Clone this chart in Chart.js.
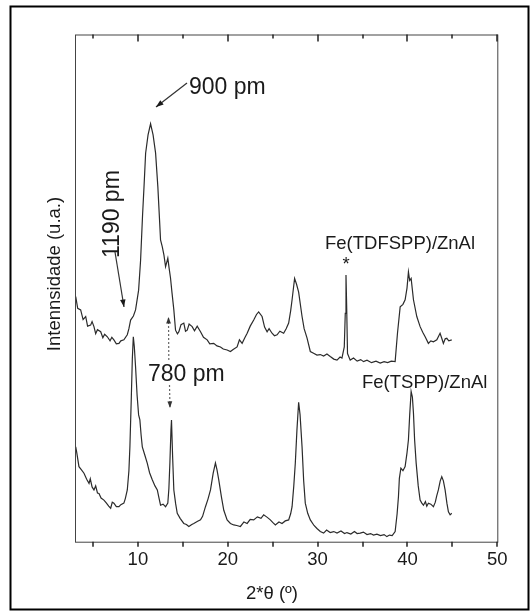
<!DOCTYPE html>
<html>
<head>
<meta charset="utf-8">
<script src="https://cdn.jsdelivr.net/npm/chart.js@4.4.1/dist/chart.umd.min.js"></script>
<style>
  body { margin: 0; background: #fff; }
  canvas { display: block; }
</style>
</head>
<body>
<canvas id="xrd" width="531" height="613"></canvas>
<script>
// 2θ positions (degrees) and intensities (a.u., 0-100)
const angleTDFSPP = [3.08,3.3,3.63,3.9,4.19,4.4,4.74,4.9,5.11,5.3,5.5,5.86,6.1,6.3,6.6,6.9,7.1,7.33,7.6,7.89,
  8.1,8.44,8.82,9.0,9.19,9.5,9.74,10.08,10.3,10.52,10.69,10.86,11.13,11.41,11.69,11.97,12.22,12.41,12.52,12.71,
  12.9,13.08,13.33,13.47,13.63,13.8,14.0,14.19,14.4,14.56,14.8,15.11,15.3,15.49,15.7,16.04,16.3,16.6,16.97,17.3,
  17.71,18.0,18.44,18.8,19.19,19.5,19.93,20.3,20.6,21.04,21.3,21.6,21.9,22.16,22.5,22.89,23.2,23.44,23.82,24.1,
  24.38,24.6,24.93,25.2,25.49,25.8,26.22,26.5,26.78,27.0,27.16,27.44,27.65,27.89,28.27,28.5,28.82,29.19,29.5,29.93,
  30.3,30.67,31.04,31.41,31.8,32.16,32.5,32.71,32.97,33.08,33.16,33.24,33.33,33.63,34.0,34.4,34.8,35.11,35.5,36.0,
  36.5,36.97,37.4,37.8,38.2,38.63,38.89,39.19,39.5,39.74,39.95,40.11,40.25,40.41,40.67,41.04,41.41,41.7,41.97,42.33,
  42.6,42.89,43.27,43.63,43.8,44.0,44.2,44.38,44.6,44.93];
const intensityTDFSPP = [48.3,46.0,45.7,43.8,44.4,42.5,42.7,43.4,42.4,41.0,41.8,41.4,40.2,40.9,40.4,39.6,40.3,39.8,39.0,39.1,
  39.6,39.8,40.8,42.0,43.7,44.5,45.7,49.6,55.5,64.4,70.3,76.6,80.2,82.4,80.2,76.6,70.0,63.4,59.5,58.2,
  56.5,54.2,55.9,54.0,52.0,49.0,45.7,41.7,41.0,41.4,42.8,43.1,41.5,41.7,42.9,42.4,41.6,42.5,41.4,40.3,
  39.8,39.0,39.1,38.6,38.4,38.0,37.8,37.5,37.9,38.4,39.8,39.1,40.2,41.1,42.5,43.7,44.8,45.3,44.4,42.3,
  41.4,42.0,41.1,40.6,40.8,41.5,41.1,42.0,43.1,45.5,47.7,51.9,50.8,49.2,44.4,42.0,40.2,37.5,37.2,36.8,
  36.9,36.6,37.0,36.5,36.0,35.8,36.4,36.2,38.4,45.0,52.6,46.0,37.1,35.8,36.2,35.6,35.9,35.5,35.8,35.3,
  35.6,35.2,35.5,35.3,35.6,35.5,41.1,46.3,46.8,47.7,50.0,53.2,51.5,51.9,47.7,44.4,42.4,41.3,40.4,39.1,
  39.6,39.4,39.8,41.1,40.2,39.1,40.0,40.1,39.6,39.8];

const angleTSPP = [3.08,3.2,3.44,3.7,4.0,4.3,4.56,4.7,4.9,5.11,5.3,5.5,5.67,5.9,6.22,6.5,6.75,6.97,7.15,7.33,
  7.6,7.89,8.1,8.44,8.6,8.82,9.0,9.11,9.27,9.38,9.49,9.6,9.74,9.91,10.08,10.22,10.36,10.49,10.75,11.04,
  11.3,11.6,11.9,12.16,12.35,12.52,12.8,13.08,13.33,13.45,13.56,13.68,13.74,13.86,14.0,14.2,14.38,14.7,15.11,15.4,
  15.67,16.0,16.22,16.6,16.97,17.2,17.52,17.8,18.08,18.38,18.63,18.8,19.0,19.3,19.56,19.93,20.3,20.67,21.0,21.41,
  21.8,22.16,22.5,22.89,23.3,23.7,24.0,24.4,24.74,25.0,25.3,25.7,26.04,26.4,26.78,27.0,27.16,27.35,27.52,27.7,
  27.89,28.05,28.27,28.45,28.63,28.9,29.19,29.6,29.93,30.3,30.67,31.0,31.4,31.8,32.16,32.6,33.0,33.27,33.7,34.1,
  34.4,34.74,35.1,35.5,35.9,36.22,36.6,37.0,37.4,37.71,38.0,38.3,38.63,38.85,39.0,39.1,39.27,39.5,39.74,39.95,
  40.11,40.25,40.41,40.55,40.67,40.8,40.97,41.2,41.41,41.6,41.78,42.0,42.15,42.33,42.6,42.89,43.1,43.25,43.44,43.65,
  43.82,44.0,44.19,44.4,44.56,44.75,44.93];
const intensityTSPP = [18.7,17.5,14.8,14.2,13.5,12.3,11.5,12.4,10.8,10.2,11.0,9.6,9.5,8.6,8.2,7.6,7.0,6.6,7.8,7.6,
  6.9,6.9,7.3,7.6,8.5,10.2,14.0,18.7,28.6,36.0,40.4,38.5,34.5,28.9,25.0,24.0,21.0,18.7,17.2,15.5,
  13.6,12.2,11.0,10.2,8.6,7.2,7.4,6.9,7.6,10.5,15.5,22.0,24.0,17.0,10.2,7.5,5.6,4.6,3.6,3.4,
  3.0,3.4,3.6,4.0,4.3,5.0,6.9,8.4,10.2,13.5,15.5,14.2,12.2,8.8,6.2,4.3,3.6,3.3,3.2,3.0,
  3.9,3.6,4.4,4.3,4.9,4.6,5.3,4.8,4.3,3.8,3.3,3.9,3.6,4.1,4.3,5.5,6.9,11.0,15.5,22.0,
  27.5,25.0,18.7,12.0,7.6,5.6,4.3,3.2,2.6,2.0,1.7,2.3,1.8,2.0,1.7,2.1,1.6,1.8,1.5,2.0,
  1.6,1.7,1.9,1.4,1.6,1.3,1.5,1.2,1.4,1.0,1.3,1.2,2.0,5.5,8.9,12.5,14.5,14.0,14.8,17.5,
  20.1,25.0,29.6,28.5,25.3,20.0,15.5,11.0,8.2,7.6,7.2,7.9,7.0,7.6,7.4,6.9,7.8,9.0,10.2,12.0,
  12.8,12.0,10.2,7.5,5.9,5.3,5.6];

const tickValues = [10, 20, 30, 40, 50];
const minorTicks = [5, 15, 25, 35, 45];
const xTitle = '2*θ (º)';
const yTitle = 'Intennsidade (u.a.)';

const FONT = '"Liberation Sans", Arial, sans-serif';
const W = 531, H = 613;
const plotLeft = 75, plotRight = 497.3, plotTop = 34.5, plotBottom = 541.7;

function pairs(xs, ys) {
  return xs.map((x, i) => ({ x: x, y: ys[i] }));
}

function arrow(ctx, x1, y1, x2, y2, head) {
  const a = Math.atan2(y2 - y1, x2 - x1);
  ctx.beginPath();
  ctx.moveTo(x1, y1);
  ctx.lineTo(x2, y2);
  ctx.stroke();
  ctx.beginPath();
  ctx.moveTo(x2, y2);
  ctx.lineTo(x2 - head * Math.cos(a - 0.35), y2 - head * Math.sin(a - 0.35));
  ctx.lineTo(x2 - head * Math.cos(a + 0.35), y2 - head * Math.sin(a + 0.35));
  ctx.closePath();
  ctx.fill();
}

const decorations = {
  id: 'decorations',
  afterDraw(chart) {
    const ctx = chart.ctx;
    const area = chart.chartArea;
    const xs = chart.scales.x;
    ctx.save();

    // plot frame
    ctx.strokeStyle = '#444';
    ctx.lineWidth = 1;
    ctx.strokeRect(area.left + 0.5, area.top + 0.5, area.right - area.left, area.bottom - area.top);

    // tick marks, bottom outward, top inward
    ctx.strokeStyle = '#222';
    ctx.lineWidth = 1.5;
    tickValues.concat(minorTicks).forEach(v => {
      const px = Math.round(xs.getPixelForValue(v));
      const major = v % 10 === 0;
      ctx.beginPath();
      ctx.moveTo(px, area.bottom);
      ctx.lineTo(px, area.bottom + 5);
      ctx.moveTo(px, area.top);
      ctx.lineTo(px, area.top + (major ? 7 : 4));
      ctx.stroke();
    });

    ctx.fillStyle = '#1a1a1a';
    ctx.strokeStyle = '#333';
    ctx.lineWidth = 1.2;

    // annotations
    ctx.font = '23px ' + FONT;
    ctx.textAlign = 'left';
    ctx.textBaseline = 'alphabetic';
    ctx.fillText('900 pm', 189, 94);
    arrow(ctx, 187, 83, 156, 107, 8);

    ctx.save();
    ctx.translate(119, 258);
    ctx.rotate(-Math.PI / 2);
    ctx.fillText('1190 pm', 0, 0);
    ctx.restore();
    arrow(ctx, 115, 252, 124, 307, 8);

    ctx.save();
    ctx.strokeStyle = '#666';
    ctx.fillStyle = '#333';
    ctx.setLineDash([2, 2]);
    arrow(ctx, 168.8, 360, 168.5, 317, 7);
    arrow(ctx, 169.5, 385, 170, 408, 7);
    ctx.restore();
    ctx.fillText('780 pm', 148, 381);

    ctx.font = '18.5px ' + FONT;
    ctx.fillText('Fe(TDFSPP)/ZnAl', 325, 249);
    ctx.fillText('Fe(TSPP)/ZnAl', 362, 388);
    ctx.textAlign = 'center';
    ctx.fillText('*', 346, 270);

    // axis titles
    ctx.textBaseline = 'middle';
    ctx.fillText(xTitle, 272, 594);
    ctx.save();
    ctx.translate(55, 274);
    ctx.rotate(-Math.PI / 2);
    ctx.fillText(yTitle, 0, 0);
    ctx.restore();

    // outer frame
    ctx.strokeStyle = '#000';
    ctx.lineWidth = 2;
    ctx.strokeRect(10.5, 6.5, 518, 603);
    ctx.restore();
  }
};

const lineStyle = {
  borderColor: '#2b2b2b',
  borderWidth: 1.2,
  pointRadius: 0,
  tension: 0,
  fill: false
};

new Chart(document.getElementById('xrd'), {
  type: 'line',
  data: {
    datasets: [
      Object.assign({ label: 'Fe(TDFSPP)/ZnAl', data: pairs(angleTDFSPP, intensityTDFSPP) }, lineStyle),
      Object.assign({ label: 'Fe(TSPP)/ZnAl', data: pairs(angleTSPP, intensityTSPP) }, lineStyle)
    ]
  },
  options: {
    responsive: false,
    animation: false,
    events: [],
    layout: { padding: { left: plotLeft, right: W - plotRight, top: plotTop, bottom: 0 } },
    plugins: { legend: { display: false }, tooltip: { enabled: false } },
    scales: {
      x: {
        type: 'linear',
        min: 3,
        max: 50,
        grid: { display: false, drawTicks: false },
        border: { display: false },
        afterBuildTicks: axis => { axis.ticks = tickValues.map(v => ({ value: v })); },
        afterFit: axis => { axis.height = H - plotBottom; },
        ticks: {
          autoSkip: false,
          maxRotation: 0,
          padding: 7,
          color: '#1a1a1a',
          font: { family: FONT, size: 18.5 }
        }
      },
      y: { display: false, min: 0, max: 100 }
    }
  },
  plugins: [decorations]
});
</script>
</body>
</html>
